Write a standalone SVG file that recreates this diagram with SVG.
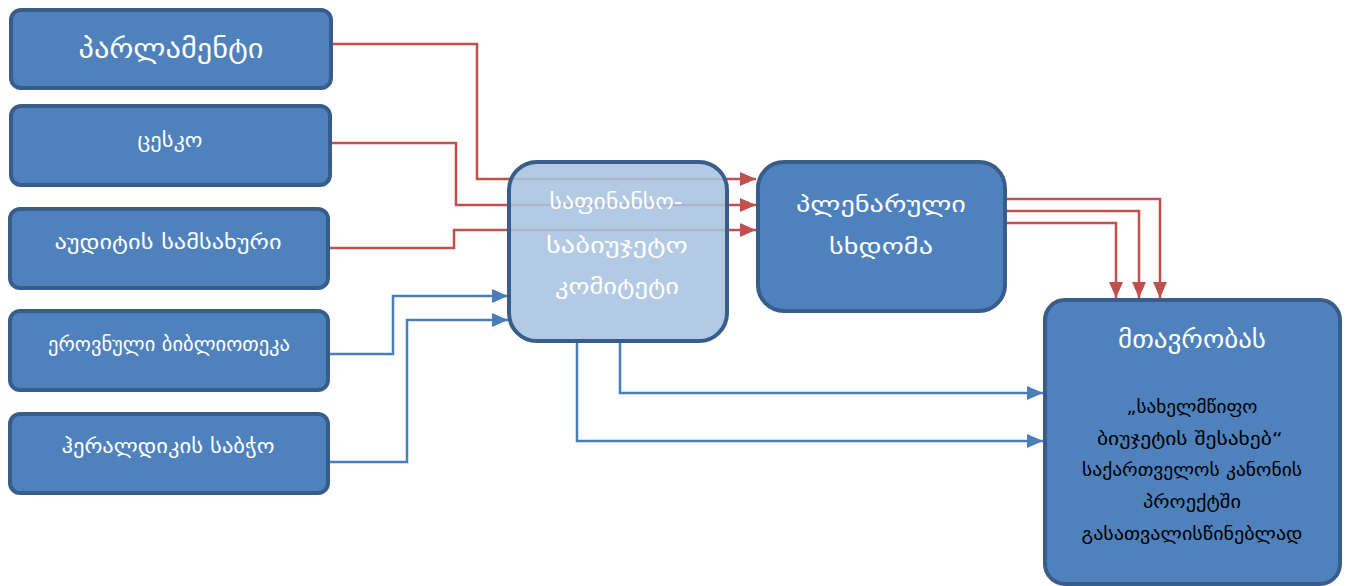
<svg xmlns="http://www.w3.org/2000/svg" width="1348" height="586" viewBox="0 0 1348 586">
<style>
.box{fill:#4F81BD;stroke:#385D8A;stroke-width:4}
.boxl{fill:#A9C3E1;fill-opacity:0.88;stroke:#385D8A;stroke-width:4}
.t{font-family:"DejaVu Sans","Noto Sans",sans-serif;fill:#FFFFFF;text-anchor:middle}
.tb{font-family:"DejaVu Sans","Noto Sans",sans-serif;fill:#000000;text-anchor:middle;font-size:18px}
.red{fill:none;stroke:#C0504D;stroke-width:2.5}
.blue{fill:none;stroke:#4A7EBB;stroke-width:2.5}
</style>
<defs>
<marker id="ar" viewBox="0 0 16 14" refX="16" refY="7" markerWidth="16" markerHeight="14" markerUnits="userSpaceOnUse" orient="auto"><path d="M0,0 L16,7 L0,14 z" fill="#C0504D"/></marker>
<marker id="ab" viewBox="0 0 16 14" refX="16" refY="7" markerWidth="16" markerHeight="14" markerUnits="userSpaceOnUse" orient="auto"><path d="M0,0 L16,7 L0,14 z" fill="#4A7EBB"/></marker>
</defs>
<g id="connectors">
<path class="red" d="M333,44 H477 V179 H756" marker-end="url(#ar)"/>
<path class="red" d="M332,143 H456 V205 H756" marker-end="url(#ar)"/>
<path class="red" d="M330,248 H454 V230 H756" marker-end="url(#ar)"/>
<path class="red" d="M1007,199 H1160 V298" marker-end="url(#ar)"/>
<path class="red" d="M1007,211 H1139 V298" marker-end="url(#ar)"/>
<path class="red" d="M1007,223 H1116 V298" marker-end="url(#ar)"/>
<path class="blue" d="M330,354 H393 V296 H508" marker-end="url(#ab)"/>
<path class="blue" d="M330,462 H407 V320 H508" marker-end="url(#ab)"/>
<path class="blue" d="M620,343 V393 H1043" marker-end="url(#ab)"/>
<path class="blue" d="M577,343 V441 H1043" marker-end="url(#ab)"/>
</g>
<g id="parliament">
<rect class="box" x="11" y="10" width="320" height="78" rx="10"/>
<text class="t" x="171" y="58" font-size="28" textLength="185" lengthAdjust="spacingAndGlyphs">პარლამენტი</text>
</g>
<g id="cesko">
<rect class="box" x="11" y="106" width="319" height="79" rx="10"/>
<text class="t" x="170" y="147" font-size="19" textLength="65" lengthAdjust="spacingAndGlyphs">ცესკო</text>
</g>
<g id="audit">
<rect class="box" x="10" y="209" width="318" height="79" rx="10"/>
<text class="t" x="168" y="249" font-size="19" textLength="227" lengthAdjust="spacingAndGlyphs">აუდიტის სამსახური</text>
</g>
<g id="library">
<rect class="box" x="10" y="311" width="318" height="79" rx="10"/>
<text class="t" x="169" y="351" font-size="19" textLength="242" lengthAdjust="spacingAndGlyphs">ეროვნული ბიბლიოთეკა</text>
</g>
<g id="heraldry">
<rect class="box" x="10" y="414" width="318" height="79" rx="10"/>
<text class="t" x="168" y="453" font-size="19" textLength="213" lengthAdjust="spacingAndGlyphs">ჰერალდიკის საბჭო</text>
</g>
<g id="committee">
<rect class="boxl" x="509" y="162" width="218" height="179" rx="28"/>
<text class="t" x="616" y="209" font-size="22" textLength="133" lengthAdjust="spacingAndGlyphs">საფინანსო-</text>
<text class="t" x="617" y="253" font-size="22" textLength="142" lengthAdjust="spacingAndGlyphs">საბიუჯეტო</text>
<text class="t" x="617" y="294" font-size="22" textLength="124" lengthAdjust="spacingAndGlyphs">კომიტეტი</text>
</g>
<g id="plenary">
<rect class="box" x="758" y="162" width="247" height="149" rx="26"/>
<text class="t" x="881" y="212" font-size="22" textLength="170" lengthAdjust="spacingAndGlyphs">პლენარული</text>
<text class="t" x="881" y="254" font-size="22" textLength="104" lengthAdjust="spacingAndGlyphs">სხდომა</text>
</g>
<g id="government">
<rect class="box" x="1045" y="300" width="295" height="284" rx="20"/>
<text class="t" x="1192" y="348" font-size="25" textLength="148" lengthAdjust="spacingAndGlyphs">მთავრობას</text>
<text class="tb" x="1192" y="413" textLength="131" lengthAdjust="spacingAndGlyphs">„სახელმწიფო</text>
<text class="tb" x="1190" y="445" textLength="186" lengthAdjust="spacingAndGlyphs">ბიუჯეტის შესახებ“</text>
<text class="tb" x="1192" y="476" textLength="220" lengthAdjust="spacingAndGlyphs">საქართველოს კანონის</text>
<text class="tb" x="1192" y="508" textLength="98" lengthAdjust="spacingAndGlyphs">პროექტში</text>
<text class="tb" x="1192" y="540" textLength="221" lengthAdjust="spacingAndGlyphs">გასათვალისწინებლად</text>
</g>
</svg>
